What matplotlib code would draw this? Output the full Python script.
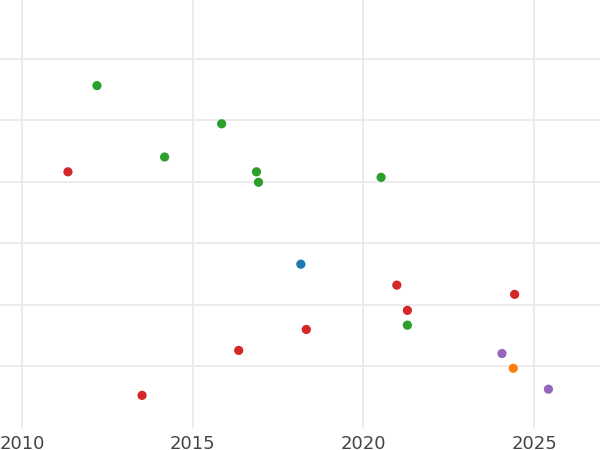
import matplotlib
matplotlib.use("Agg")
import matplotlib.pyplot as plt

# points (year, value, colour group)
years = [2012.2, 2015.85, 2014.18, 2016.87, 2016.93, 2020.52, 2011.35,
         2018.17, 2020.98, 2024.43, 2021.29, 2021.29, 2018.33, 2016.35,
         2024.06, 2024.39, 2025.42, 2013.52]
values = [5.56, 4.94, 4.4, 4.16, 3.99, 4.07, 4.16,
          2.66, 2.32, 2.17, 1.91, 1.67, 1.6, 1.26,
          1.21, 0.97, 0.63, 0.53]
groups = ["green", "green", "green", "green", "green", "green", "red",
          "blue", "red", "red", "red", "green", "red", "red",
          "purple", "orange", "purple", "red"]

palette = {"blue": "#1f77b4", "orange": "#ff7f0e", "green": "#2ca02c",
           "red": "#d62728", "purple": "#9467bd"}
colors = [palette[g] for g in groups]

fig = plt.figure(figsize=(6, 4.5), dpi=100)
ax = fig.add_axes([0, 22 / 450, 1, 428 / 450])

ax.scatter(years, values, c=colors, s=44, edgecolors="none", zorder=3)

ax.set_xlim(2009.36, 2026.93)
ax.set_ylim(0, 6.95)
ax.set_xticks([2010, 2015, 2020, 2025])
ax.set_yticks([1, 2, 3, 4, 5, 6])
ax.set_yticklabels([])
ax.grid(True, color="#ebebeb", linewidth=1.3, zorder=0)
ax.tick_params(length=0, labelsize=13, labelcolor="#444444", pad=5)
for s in ax.spines.values():
    s.set_visible(False)

fig.savefig("out.png", dpi=100)
